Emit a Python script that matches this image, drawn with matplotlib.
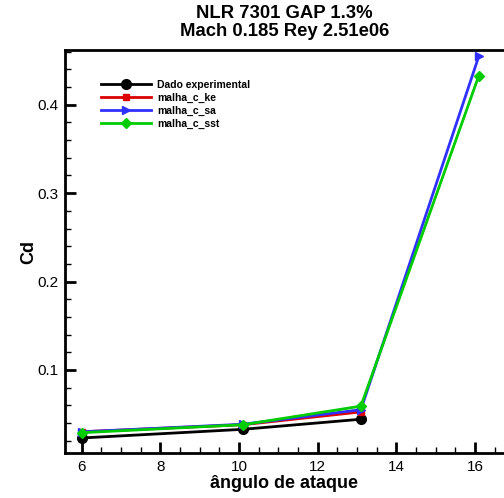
import matplotlib
matplotlib.use('Agg')
from matplotlib import pyplot as plt
from matplotlib.ticker import MultipleLocator

plt.rcParams['font.family'] = ['Liberation Sans', 'DejaVu Sans']

# dados
alpha_exp = [6, 10.1, 13.1]
cd_exp = [0.023, 0.0328, 0.0442]
alpha_ke = [6, 10.1, 13.1]
cd_ke = [0.030, 0.038, 0.0525]
alpha_sa = [6, 10.1, 13.1, 16.1]
cd_sa = [0.030, 0.0385, 0.055, 0.455]
alpha_sst = [6, 10.1, 13.1, 16.1]
cd_sst = [0.029, 0.038, 0.059, 0.433]

fig = plt.figure(figsize=(5.04, 4.98), dpi=100)
ax = fig.add_axes([65 / 504, 45 / 498, 1 - 65 / 504, 403 / 498])

ax.plot(alpha_exp, cd_exp, color='black', marker='o', ms=7, lw=2, label='Dado experimental')
ax.plot(alpha_ke, cd_ke, color='#dd0000', marker='s', ms=5, lw=2, label='malha_c_ke')
ax.plot(alpha_sa, cd_sa, color='#3030ff', marker='>', ms=6, lw=2, label='malha_c_sa')
ax.plot(alpha_sst, cd_sst, color='#00cc00', marker='D', ms=5, lw=2, label='malha_c_sst')

ax.set_xlim(5.575, 16.74)
ax.set_ylim(0.006, 0.462)
ax.xaxis.set_major_locator(MultipleLocator(2))
ax.xaxis.set_minor_locator(MultipleLocator(0.5))
ax.yaxis.set_major_locator(MultipleLocator(0.1))
ax.yaxis.set_minor_locator(MultipleLocator(0.02))
ax.tick_params(which='major', direction='in', length=8, width=2, labelsize=11, pad=5)
ax.tick_params(which='minor', direction='in', length=4, width=1)
ax.spines['right'].set_visible(False)
for s in ['left', 'bottom', 'top']:
    ax.spines[s].set_linewidth(2)

ax.set_xlabel('ângulo de ataque', fontsize=13, fontweight='bold', labelpad=1)
ax.set_ylabel('Cd', fontsize=13, fontweight='bold', labelpad=0)
ax.set_title('NLR 7301 GAP 1.3%\nMach 0.185 Rey 2.51e06', fontsize=13.3, fontweight='bold',
             linespacing=1.1, pad=10)

leg = ax.legend(loc='upper left', bbox_to_anchor=(0.06, 0.95), frameon=False,
                prop={'size': 7.5, 'weight': 'bold'}, handlelength=4.8,
                handletextpad=0.6, labelspacing=0.3)

fig.savefig('out.png', dpi=100)
